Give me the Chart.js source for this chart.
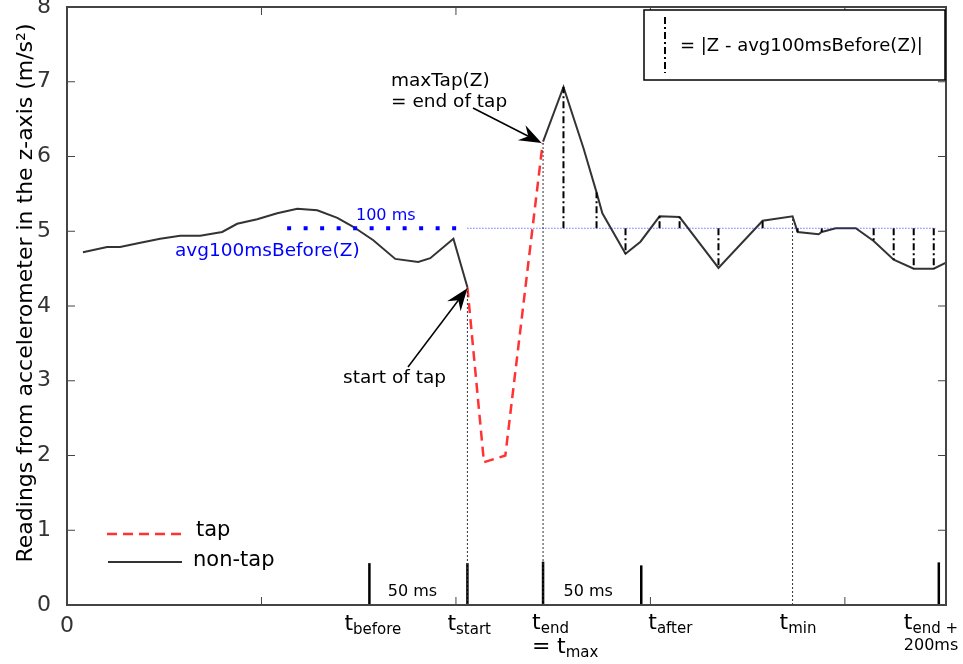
<!DOCTYPE html>
<html>
<head>
<meta charset="utf-8">
<script src="https://cdn.jsdelivr.net/npm/chart.js@4.4.1/dist/chart.umd.min.js"></script>
<style>
body{margin:0;background:#fff;}
</style>
</head>
<body>
<canvas id="myChart" width="963" height="664"></canvas>
<script>
// time in ms, Z in m/s^2
var beforeT = [8.2,20.6,27.3,36.5,47.9,58.2,68.5,79.8,87.5,97.8,108.1,118.4,128.7,139.0,147.2,157.5,168.8,180.6,186.8,198.7,205.9];
var beforeZ = [4.72,4.79,4.79,4.84,4.90,4.94,4.94,4.99,5.10,5.16,5.24,5.30,5.28,5.18,5.06,4.88,4.63,4.59,4.64,4.90,4.25];
var tapT = [205.9,214.4,225.4,244.6];
var tapZ = [4.25,1.91,2.0,6.18];
var afterT = [244.8,255.3,265.6,272.3,275.3,287.2,294.9,304.7,315.0,335.0,357.7,373.1,375.7,386.5,388.1,395.3,405.6,414.8,425.1,435.4,445.7,452];
var afterZ = [6.2,6.93,6.11,5.52,5.24,4.70,4.86,5.20,5.19,4.51,5.14,5.20,4.99,4.96,4.99,5.04,5.04,4.87,4.62,4.50,4.50,4.58];
var devIdx = [1,3,5,7,8,9,10,12,14,17,18,19,20]; // points of afterT with |Z - avg| drawn
var avgZ = 5.04;
var avgFrom = 113.2, avgTo = 446.7;
var markT = [155.5, 205.9, 244.8, 295.3, 448.3]; // t_before, t_start, t_end, t_after, t_end+200ms
var markH = [0.56, 0.56, 0.58, 0.53, 0.57];
var dropT = [205.9, 244.8, 373.1]; // t_start, t_end, t_min
var dropZ = [4.25, 6.2, 5.2];
var yTicks = [0,1,2,3,4,5,6,7,8];
var xTicks = [0,100,200,300,400];

function pts(t, z) {
    return t.map(function (v, i) { return {x: v, y: z[i]}; });
}

var sets = [];
sets.push({data: [{x: avgFrom, y: avgZ}, {x: beforeT[beforeT.length-1], y: avgZ}], borderColor: '#0000ff', borderWidth: 4, borderDash: [4, 12.5]});
sets.push({data: [{x: beforeT[beforeT.length-1], y: avgZ}, {x: avgTo, y: avgZ}], borderColor: 'rgba(30,30,255,0.95)', borderWidth: 1, borderDash: [1, 2]});
for (var i = 0; i < dropT.length; i++) {
    sets.push({data: [{x: dropT[i], y: 0}, {x: dropT[i], y: dropZ[i]}], borderColor: '#333', borderWidth: 1, borderDash: [2, 2]});
}
for (var j = 0; j < devIdx.length; j++) {
    var k = devIdx[j];
    sets.push({data: [{x: afterT[k], y: avgZ}, {x: afterT[k], y: afterZ[k]}], borderColor: '#000', borderWidth: 2, borderDash: [7, 3, 2, 3]});
}
for (var m = 0; m < markT.length; m++) {
    sets.push({data: [{x: markT[m], y: 0}, {x: markT[m], y: markH[m]}], borderColor: '#000', borderWidth: 2.5});
}
sets.push({data: pts(tapT, tapZ), borderColor: '#ff3333', borderWidth: 2.5, borderDash: [10, 6]});
sets.push({data: pts(beforeT, beforeZ), borderColor: '#333', borderWidth: 2});
sets.push({data: pts(afterT, afterZ), borderColor: '#333', borderWidth: 2});
sets.forEach(function (s) { s.pointRadius = 0; s.fill = false; s.tension = 0; });

function arrow(ctx, x1, y1, x2, y2) {
    var a = Math.atan2(y2 - y1, x2 - x1);
    ctx.beginPath();
    ctx.moveTo(x1, y1);
    ctx.lineTo(x2 - 10 * Math.cos(a), y2 - 10 * Math.sin(a));
    ctx.strokeStyle = '#000';
    ctx.lineWidth = 1.5;
    ctx.setLineDash([]);
    ctx.stroke();
    ctx.beginPath();
    ctx.moveTo(x2, y2);
    ctx.lineTo(x2 - 24 * Math.cos(a - 0.36), y2 - 24 * Math.sin(a - 0.36));
    ctx.lineTo(x2 - 15 * Math.cos(a), y2 - 15 * Math.sin(a));
    ctx.lineTo(x2 - 24 * Math.cos(a + 0.36), y2 - 24 * Math.sin(a + 0.36));
    ctx.closePath();
    ctx.fillStyle = '#000';
    ctx.fill();
}

// t with a subscript
function tLabel(ctx, x, y, sub) {
    ctx.font = '22px "DejaVu Sans"';
    ctx.fillText('t', x, y);
    var w = ctx.measureText('t').width;
    ctx.font = '15px "DejaVu Sans"';
    ctx.fillText(sub, x + w, y + 4);
}

var extras = {
    id: 'extras',
    afterDraw: function (chart) {
        var ctx = chart.ctx, a = chart.chartArea;
        var xs = chart.scales.x, ys = chart.scales.y;
        ctx.save();
        // frame
        ctx.strokeStyle = '#444';
        ctx.lineWidth = 2;
        ctx.setLineDash([]);
        ctx.strokeRect(a.left, a.top, a.right - a.left, a.bottom - a.top);
        // inward ticks
        ctx.lineWidth = 1;
        yTicks.forEach(function (v) {
            var y = ys.getPixelForValue(v);
            ctx.beginPath();
            ctx.moveTo(a.left, y); ctx.lineTo(a.left + 8, y);
            ctx.moveTo(a.right, y); ctx.lineTo(a.right - 8, y);
            ctx.stroke();
        });
        xTicks.forEach(function (v) {
            var x = xs.getPixelForValue(v);
            ctx.beginPath();
            ctx.moveTo(x, a.bottom); ctx.lineTo(x, a.bottom - 8);
            ctx.moveTo(x, a.top); ctx.lineTo(x, a.top + 8);
            ctx.stroke();
        });

        // y title
        ctx.fillStyle = '#000';
        ctx.save();
        ctx.translate(26, 293);
        ctx.rotate(-Math.PI / 2);
        ctx.font = '22px "DejaVu Sans"';
        ctx.textAlign = 'center';
        ctx.textBaseline = 'middle';
        ctx.fillText('Readings from accelerometer in the z-axis (m/s\u00b2)', 0, 0);
        ctx.restore();

        // x labels under the axis
        ctx.textAlign = 'left';
        ctx.textBaseline = 'alphabetic';
        var px = markT.map(function (v) { return xs.getPixelForValue(v); });
        tLabel(ctx, px[0] - 25, 630, 'before');
        tLabel(ctx, px[1] - 20, 630, 'start');
        tLabel(ctx, px[2] - 11, 629, 'end');
        ctx.font = '22px "DejaVu Sans"';
        ctx.fillText('=', px[2] - 11, 653);
        tLabel(ctx, px[2] + 14, 653, 'max');
        tLabel(ctx, px[3] + 7, 629, 'after');
        tLabel(ctx, xs.getPixelForValue(dropT[2]) - 13, 629, 'min');
        tLabel(ctx, px[4] - 35, 629, 'end +');
        ctx.font = '16px "DejaVu Sans"';
        ctx.fillText('200ms', px[4] - 35, 650);

        // 50 ms spans
        ctx.font = '16px "DejaVu Sans"';
        ctx.textAlign = 'center';
        ctx.fillText('50 ms', (px[0] + px[1]) / 2 - 6, 596);
        ctx.fillText('50 ms', (px[2] + px[3]) / 2 - 4, 596);

        // blue avg labels
        ctx.fillStyle = '#0000ff';
        ctx.textAlign = 'left';
        ctx.font = '16px "DejaVu Sans"';
        ctx.fillText('100 ms', 356, 220);
        ctx.font = '18.5px "DejaVu Sans"';
        ctx.fillText('avg100msBefore(Z)', 175, 256);

        // annotations
        ctx.fillStyle = '#000';
        ctx.font = '18.5px "DejaVu Sans"';
        ctx.fillText('maxTap(Z)', 391, 86);
        ctx.fillText('= end of tap', 391, 107);
        arrow(ctx, 473, 108, xs.getPixelForValue(tapT[3]) - 1, ys.getPixelForValue(tapZ[3]));
        ctx.fillText('start of tap', 343, 383);
        arrow(ctx, 408, 367, xs.getPixelForValue(tapT[0]), ys.getPixelForValue(tapZ[0]) + 1);

        // legend bottom-left
        ctx.lineWidth = 2.5;
        ctx.strokeStyle = '#ff3333';
        ctx.setLineDash([10, 6]);
        ctx.beginPath(); ctx.moveTo(107, 534); ctx.lineTo(182, 534); ctx.stroke();
        ctx.strokeStyle = '#333';
        ctx.lineWidth = 2;
        ctx.setLineDash([]);
        ctx.beginPath(); ctx.moveTo(108, 562); ctx.lineTo(182, 562); ctx.stroke();
        ctx.font = '21px "DejaVu Sans"';
        ctx.textBaseline = 'middle';
        ctx.fillText('tap', 196, 531);
        ctx.fillText('non-tap', 193, 561);

        // legend top-right
        ctx.fillStyle = '#fff';
        ctx.fillRect(644, 10, 301, 70);
        ctx.strokeStyle = '#000';
        ctx.lineWidth = 1.5;
        ctx.strokeRect(644, 10, 301, 70);
        ctx.lineWidth = 2;
        ctx.setLineDash([7, 3, 2, 3]);
        ctx.beginPath(); ctx.moveTo(665, 17); ctx.lineTo(665, 73); ctx.stroke();
        ctx.setLineDash([]);
        ctx.fillStyle = '#000';
        ctx.font = '18px "DejaVu Sans"';
        ctx.fillText('= |Z - avg100msBefore(Z)|', 680, 46);
        ctx.restore();
    }
};

var graficar = document.getElementById('myChart').getContext('2d');
var myChart = new Chart(graficar, {
    type: 'line',
    data: {datasets: sets},
    options: {
        responsive: false,
        animation: false,
        layout: {padding: {left: 0, right: 17, top: 7, bottom: 0}},
        plugins: {legend: {display: false}, tooltip: {enabled: false}},
        scales: {
            x: {
                type: 'linear', min: 0, max: 452,
                grid: {display: false},
                border: {display: false},
                ticks: {stepSize: 100, color: '#333', font: {family: 'DejaVu Sans', size: 22}, padding: 0,
                    callback: function (v) { return v === 0 ? '0' : ''; }},
                afterFit: function (s) { s.height = 59; s.paddingLeft = 0; s.paddingRight = 0; }
            },
            y: {
                min: 0, max: 8,
                grid: {display: false},
                border: {display: false},
                ticks: {stepSize: 1, color: '#333', font: {family: 'DejaVu Sans', size: 22}, padding: 8},
                afterFit: function (s) { s.width = 67; s.paddingTop = 0; s.paddingBottom = 0; }
            }
        }
    },
    plugins: [extras]
});
</script>
</body>
</html>
